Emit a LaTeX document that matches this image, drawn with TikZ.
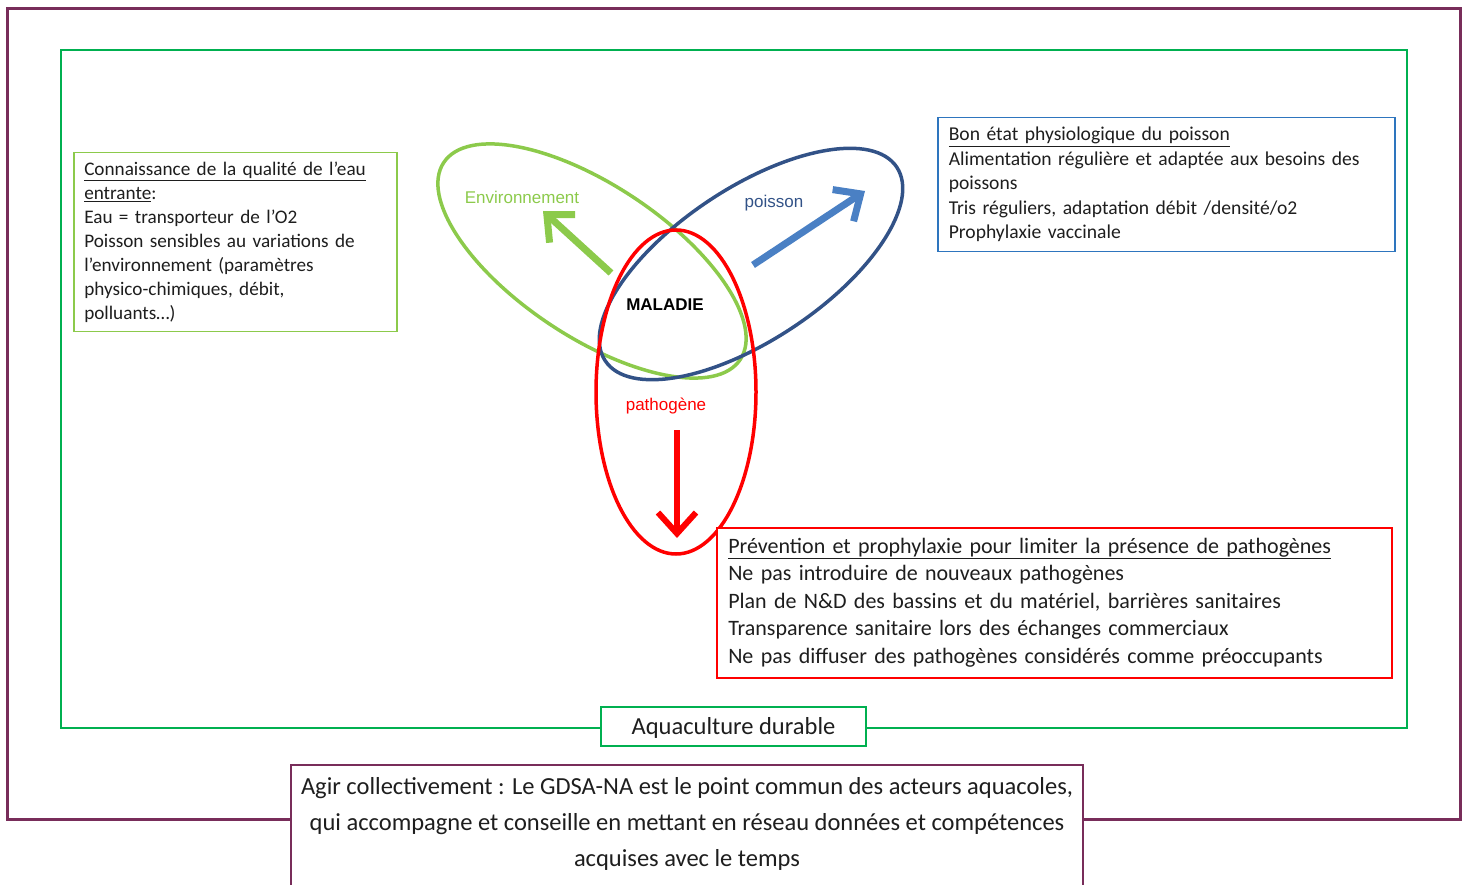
\documentclass[tikz,border=0pt]{standalone}
\usepackage{fontspec}
\setmainfont{Carlito}
\newfontfamily\arialf{Liberation Sans}
\usetikzlibrary{arrows.meta}
\definecolor{cpurple}{RGB}{120,45,90}
\definecolor{cgreen}{RGB}{0,176,80}
\definecolor{clgreen}{RGB}{140,202,75}
\definecolor{cdblue}{RGB}{50,82,135}
\definecolor{cblue}{RGB}{46,117,190}
\definecolor{carrblue}{RGB}{74,128,196}
\definecolor{ctext}{RGB}{30,30,30}
\tikzset{
  txtbox/.style={draw, fill=white, line width=1.5pt, anchor=north west, align=left, text=ctext, inner ysep=0pt},
  ellipselabel/.style={font=\arialf\fontsize{17}{20}\selectfont},
  venn/.style={line width=3.5pt},
  bigarrow/.style={line width=7pt, -{Straight Barb[length=21pt,width=38pt]}},
}
\begin{document}
\begin{tikzpicture}[x=1pt,y=-1pt]
\useasboundingbox (0,0) rectangle (1462,885);
% outer frame
\draw[cpurple, line width=3pt] (7,9) rectangle (1460,819);
% green frame
\draw[cgreen, line width=2.5pt] (61,50) rectangle (1407,728);
% Venn ellipses
\draw[venn, clgreen] (592,261) ellipse [x radius=178, y radius=76, rotate=-33.6];
\draw[venn, cdblue] (751,264) ellipse [x radius=175, y radius=76, rotate=33.6];
\draw[venn, red] (676,392) ellipse [x radius=80, y radius=162];
% arrows
\coordinate (ga) at (611,273); \coordinate (gb) at (543,211);
\coordinate (ba) at (753,265); \coordinate (bb) at (865,191);
\coordinate (ra) at (677,430); \coordinate (rb) at (677,538);
\draw[bigarrow, clgreen] (ga) -- (gb);
\draw[bigarrow, carrblue] (ba) -- (bb);
\draw[bigarrow, red, line width=6pt] (ra) -- (rb);
% labels
\node[ellipselabel, text=clgreen] (lenv) at (522,197) {Environnement};
\node[ellipselabel, text=cdblue] (lpoi) at (774,203) {poisson};
\node[ellipselabel, font=\arialf\bfseries\fontsize{17}{20}\selectfont] (lmal) at (665,305) {MALADIE};
\node[ellipselabel, text=red] (lpat) at (666,406) {pathogène};
% left box
\node[txtbox, draw=clgreen, inner xsep=10.5pt, text width=302pt, minimum width=323pt, minimum height=179pt,
  font=\fontsize{19.2}{24}\selectfont] (envbox) at (73,152)
  {\underline{Connaissance de la qualité de l’eau}\\
   \underline{entrante}:\\
   Eau = transporteur de l’O2\\
   Poisson sensibles au variations de\\
   l’environnement (paramètres\\
   physico-chimiques, débit,\\
   polluants…)};
% right blue box
\node[txtbox, draw=cblue, inner xsep=11pt, text width=435pt, minimum width=457pt, minimum height=134pt,
  font=\fontsize{19.6}{24.5}\selectfont] (poibox) at (937,117)
  {\underline{Bon état physiologique du poisson}\\
   Alimentation régulière et adaptée aux besoins des\\
   poissons\\
   Tris réguliers, adaptation débit /densité/o2\\
   Prophylaxie vaccinale};
% red box
\node[txtbox, draw=red, inner xsep=11.5pt, text width=652pt, minimum width=675pt, minimum height=150pt,
  font=\fontsize{22}{27.5}\selectfont] (patbox) at (716,527)
  {\underline{Prévention et prophylaxie pour limiter la présence de pathogènes}\\
   Ne pas introduire de nouveaux pathogènes\\
   Plan de N\&D des bassins et du matériel, barrières sanitaires\\
   Transparence sanitaire lors des échanges commerciaux\\
   Ne pas diffuser des pathogènes considérés comme préoccupants};
% Aquaculture durable
\node[draw=cgreen, fill=white, line width=2pt, minimum width=265pt, minimum height=39pt, text=ctext,
  text height=21pt, text depth=5pt,
  font=\fontsize{24.5}{28}\selectfont] (aqua) at (733.5,726.5) {Aquaculture durable};
% bottom box
\fill[white] (291,765) rectangle (1083,886);
\draw[cpurple, line width=2pt] (291,886) -- (291,765) -- (1083,765) -- (1083,886);
\node[align=center, text=ctext, font=\fontsize{24.5}{36}\selectfont] (agir) at (687,824)
  {Agir collectivement : Le GDSA-NA est le point commun des acteurs aquacoles,\\
   qui accompagne et conseille en mettant en réseau données et compétences\\
   acquises avec le temps};
\end{tikzpicture}
\end{document}
